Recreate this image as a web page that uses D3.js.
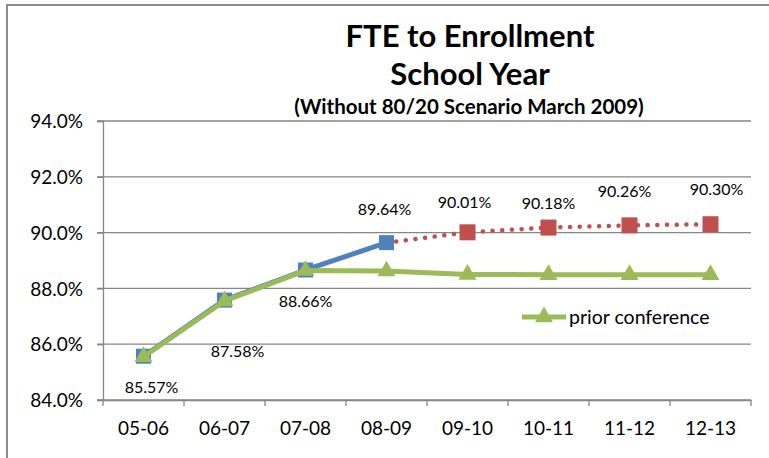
<!DOCTYPE html>
<html><head><meta charset="utf-8">
<script src="https://cdn.jsdelivr.net/npm/d3@7"></script>
<style>
html,body{margin:0;padding:0;background:#fff;}
svg{display:block;}
text{font-family:Lato,"Open Sans",sans-serif;fill:#000;}
</style></head>
<body>
<script>
const categories = ["05-06","06-07","07-08","08-09","09-10","10-11","11-12","12-13"];
const actual = [85.57, 87.58, 88.66, 89.64, null, null, null, null];
const projected = [null, null, null, 89.64, 90.01, 90.18, 90.26, 90.30];
const prior = [85.55, 87.55, 88.64, 88.62, 88.50, 88.49, 88.49, 88.49];
const labelText = ["85.57%","87.58%","88.66%","89.64%","90.01%","90.18%","90.26%","90.30%"];
const labelValues = [85.57, 87.58, 88.66, 89.64, 90.01, 90.18, 90.26, 90.30];
const labelOffsets = [[8,37],[13,57],[0,37],[-2,-28],[-3,-24],[0,-19],[-5,-28],[6,-29]];
const yTicks = [84, 86, 88, 90, 92, 94];
const titleLines = ["FTE to Enrollment", "School Year"];
const subtitle = "(Without 80/20 Scenario March 2009)";
const legendLabel = "prior conference";

const W = 769, H = 458;
const svg = d3.select("body").append("svg").attr("width", W).attr("height", H);

svg.append("rect").attr("x",7).attr("y",5).attr("width",W+10).attr("height",H+10)
  .attr("fill","#fff").attr("stroke","#8c8c8c").attr("stroke-width",2);

const x = d3.scaleBand().domain(categories).range([103, 751]);
const y = d3.scaleLinear().domain([84, 94]).range([400, 121]);
const cx = c => x(c) + x.bandwidth()/2;

// gridlines
svg.append("g").selectAll("line").data(yTicks).join("line")
  .attr("x1",97).attr("x2",751).attr("y1",d=>y(d)).attr("y2",d=>y(d))
  .attr("stroke","#868686").attr("stroke-width",1.3);

// y axis
const yAxis = d3.axisLeft(y).tickValues(yTicks).tickFormat(d=>d3.format(".1f")(d)+"%").tickSize(6).tickPadding(14);
const gy = svg.append("g").attr("transform","translate(103,0)").call(yAxis);
gy.selectAll("path,line").attr("stroke","#868686").attr("stroke-width",1.3);
gy.selectAll("text").attr("font-size",19).attr("font-family","Lato").attr("dy","0.35em");

// x axis
const xAxis = d3.axisBottom(x).tickSize(0).tickPadding(22);
const gx = svg.append("g").attr("transform","translate(0,400)").call(xAxis);
gx.select("path").attr("stroke","#868686").attr("stroke-width",1.3);
gx.selectAll("text").attr("font-size",19).attr("font-family","Lato");
const bounds = categories.map(c=>x(c)).concat([x.range()[1]]);
gx.append("g").selectAll("line").data(bounds).join("line")
  .attr("x1",d=>d).attr("x2",d=>d).attr("y1",0).attr("y2",6)
  .attr("stroke","#868686").attr("stroke-width",1.3);

const line = d3.line().defined(d=>d.v!=null).x(d=>cx(d.c)).y(d=>y(d.v));
const toPts = arr => arr.map((v,i)=>({c:categories[i], v}));

// projected (red dotted)
svg.append("path").datum(toPts(projected)).attr("d",line).attr("fill","none")
  .attr("stroke","#C0504D").attr("stroke-width",4.5).attr("stroke-linecap","round")
  .attr("stroke-dasharray","0.1 9.6");
svg.append("g").selectAll("rect").data(toPts(projected).filter((d,i)=>d.v!=null && i>3)).join("rect")
  .attr("x",d=>cx(d.c)-8).attr("y",d=>y(d.v)-8).attr("width",16).attr("height",16)
  .attr("fill","#C0504D");

// actual (blue)
svg.append("path").datum(toPts(actual)).attr("d",line).attr("fill","none")
  .attr("stroke","#4F81BD").attr("stroke-width",5).attr("stroke-linejoin","round");
svg.append("g").selectAll("rect").data(toPts(actual).filter(d=>d.v!=null)).join("rect")
  .attr("x",d=>cx(d.c)-7.5).attr("y",d=>y(d.v)-7.5).attr("width",15).attr("height",15)
  .attr("fill","#4F81BD");

// prior (green)
const tri = d3.symbol().type(d3.symbolTriangle).size(140);
svg.append("path").datum(toPts(prior)).attr("d",line).attr("fill","none")
  .attr("stroke","#9BBB59").attr("stroke-width",5).attr("stroke-linejoin","round");
svg.append("g").selectAll("path").data(toPts(prior)).join("path")
  .attr("d",tri).attr("transform",d=>`translate(${cx(d.c)},${y(d.v)})`)
  .attr("fill","#9BBB59");

// data labels
svg.append("g").selectAll("text").data(labelText).join("text")
  .attr("x",(d,i)=>cx(categories[i])+labelOffsets[i][0])
  .attr("y",(d,i)=>y(labelValues[i])+labelOffsets[i][1])
  .attr("text-anchor","middle").attr("font-size",16).text(d=>d);

// title
svg.append("text").attr("x",470).attr("y",47).attr("text-anchor","middle")
  .attr("font-size",31).attr("font-weight","bold").text(titleLines[0]);
svg.append("text").attr("x",470).attr("y",85).attr("text-anchor","middle")
  .attr("font-size",31).attr("font-weight","bold").text(titleLines[1]);
svg.append("text").attr("x",469).attr("y",114).attr("text-anchor","middle")
  .attr("font-size",20.5).attr("font-weight","bold").text(subtitle);

// legend
const lg = svg.append("g").attr("transform","translate(522,317)");
lg.append("line").attr("x1",0).attr("x2",44).attr("y1",0).attr("y2",0)
  .attr("stroke","#9BBB59").attr("stroke-width",5);
lg.append("path").attr("d",tri).attr("transform","translate(22,0)").attr("fill","#9BBB59");
lg.append("text").attr("x",47).attr("y",7).attr("font-size",19.5).text(legendLabel);
</script>
</body></html>
